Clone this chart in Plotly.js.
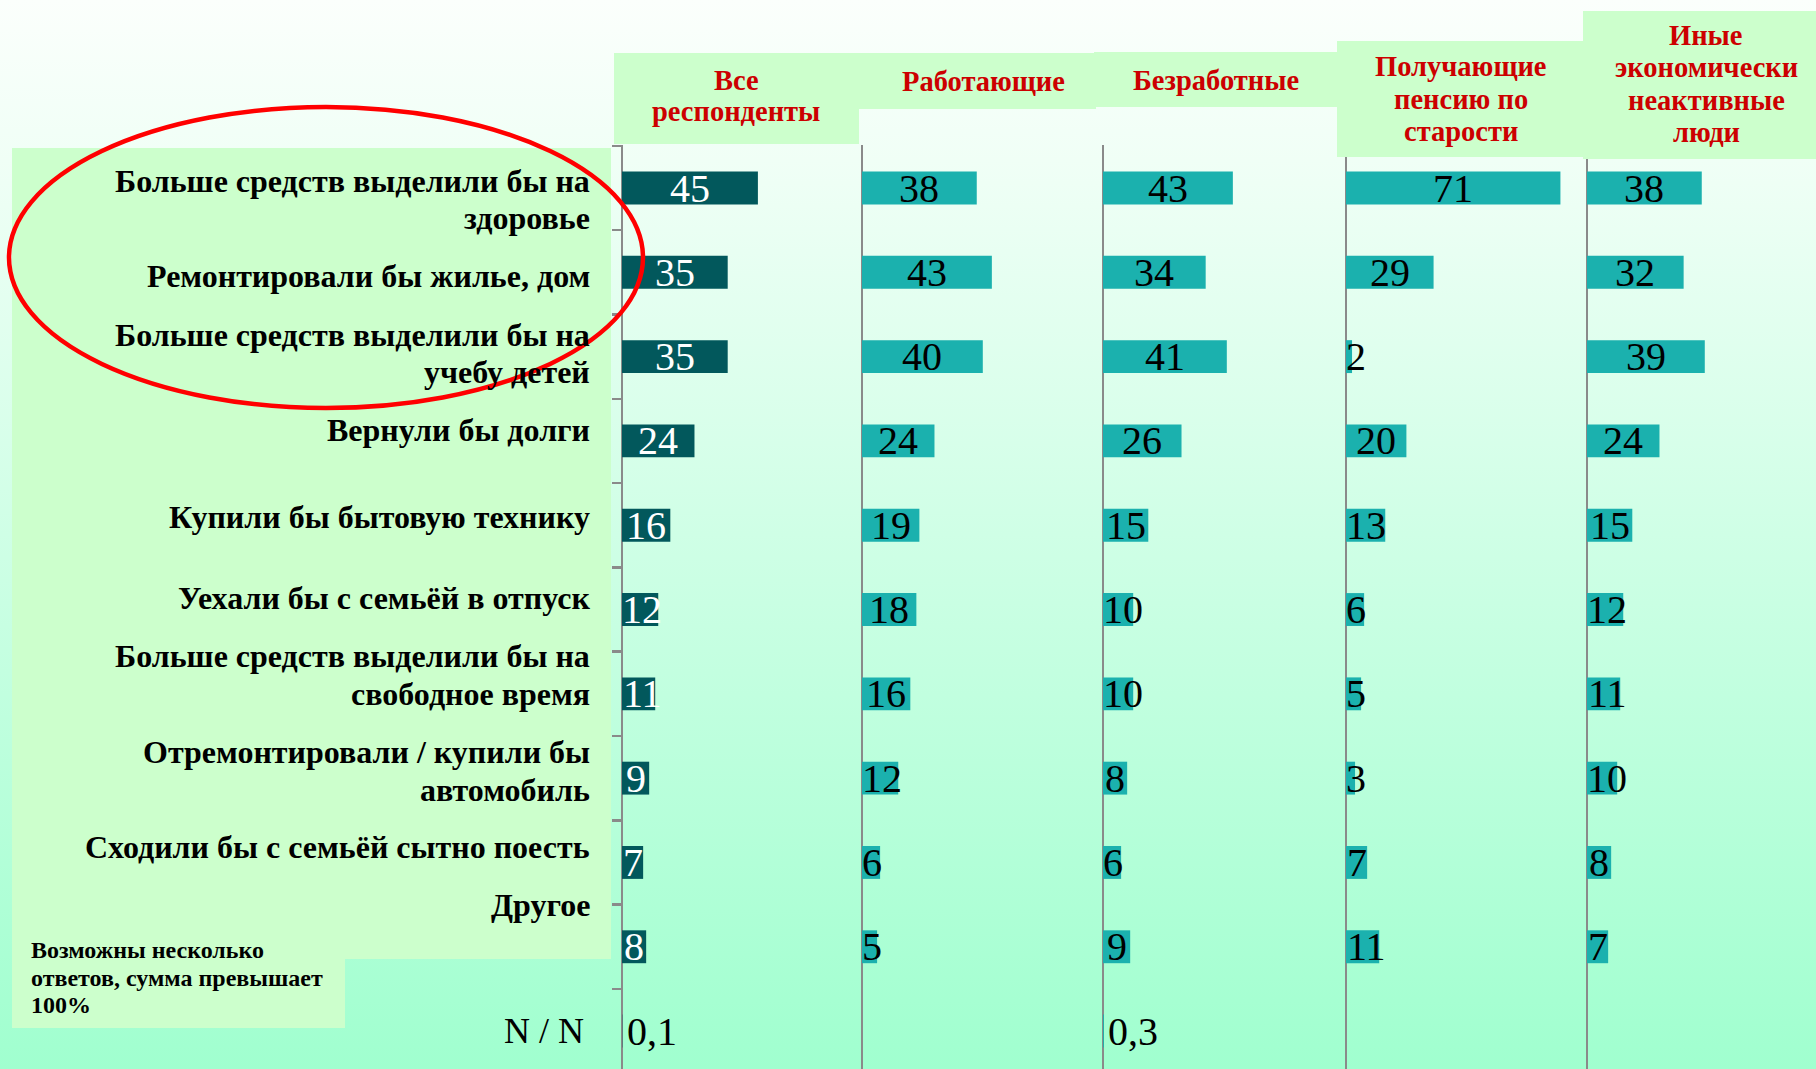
<!DOCTYPE html>
<html>
<head>
<meta charset="utf-8">
<script src="https://cdn.plot.ly/plotly-3.0.1.min.js"></script>
<style>
  html, body { margin: 0; padding: 0; }
  body { width: 1816px; height: 1069px; overflow: hidden;
         background: linear-gradient(to bottom, #fbfffc 0%, #f0fff6 15%, #a0ffcf 100%); }
  #chart { width: 1816px; height: 1069px; }
</style>
</head>
<body>
<div id="chart"></div>
<script>
// ---------------- DATA ----------------
const categories = [
  "Больше средств выделили бы на<br>здоровье",
  "Ремонтировали бы жилье, дом",
  "Больше средств выделили бы на<br>учебу детей",
  "Вернули бы долги",
  "Купили бы бытовую технику",
  "Уехали бы с семьёй в отпуск",
  "Больше средств выделили бы на<br>свободное время",
  "Отремонтировали / купили бы<br>автомобиль",
  "Сходили бы с семьёй сытно поесть",
  "Другое",
  "N / N"
];
const groups = [
  "Все<br>респонденты",
  "Работающие",
  "Безработные",
  "Получающие<br>пенсию по<br>старости",
  "Иные<br>экономически<br>неактивные<br>люди"
];
const allRespondents = [45, 35, 35, 24, 16, 12, 11, 9, 7, 8, 0.1];
const employed       = [38, 43, 40, 24, 19, 18, 16, 12, 6, 5, null];
const unemployed     = [43, 34, 41, 26, 15, 10, 10, 8, 6, 9, 0.3];
const pensioners     = [71, 29, 2, 20, 13, 6, 5, 3, 7, 11, null];
const otherInactive  = [38, 32, 39, 24, 15, 12, 11, 10, 8, 7, null];
const seriesValues = [allRespondents, employed, unemployed, pensioners, otherInactive];
const noteText = "Возможны несколько<br>ответов, сумма превышает<br>100%";

// ---------------- LAYOUT CONSTANTS ----------------
const W = 1816, H = 1069;
const px = x => x / W;
const py = y => 1 - y / H;
const SERIF = "Liberation Serif, Times New Roman, serif";
const PX_PER_UNIT = 3.02;
const panelStarts = [622, 862, 1103, 1346, 1587];
const panelEnds   = [862, 1103, 1346, 1587, 1816];
const barColors = ["#02585c", "#1bb1ae", "#1bb1ae", "#1bb1ae", "#1bb1ae"];
const headerBoxes = [
  [614, 859, 53, 144], [859, 1096, 53, 109], [1094, 1338, 52, 107],
  [1337, 1583, 41, 157], [1583, 1816, 11, 159]
];
const headerCenters = [[736, 96], [983, 82], [1216, 81], [1461, 99], [1706, 84]];
const labelLineY = [[181, 218], [276], [335, 372], [430], [517], [598], [656, 694], [752, 790], [847], [905], [1031]];
const VALUE_FONT = 40;

const data = [];
const layout = {
  width: W, height: H,
  margin: {l: 0, r: 0, t: 0, b: 0, pad: 0},
  paper_bgcolor: "rgba(0,0,0,0)",
  plot_bgcolor: "rgba(0,0,0,0)",
  showlegend: false,
  font: {family: SERIF},
  yaxis: {
    type: "category",
    categoryorder: "array",
    categoryarray: categories,
    range: [10.45, -0.51],
    domain: [0, py(145)],
    anchor: "x",
    showticklabels: false,
    showgrid: false, zeroline: false, showline: false,
    ticks: "outside", tickson: "boundaries", ticklen: 9, tickwidth: 2.5, tickcolor: "#8a8a8a",
    fixedrange: true
  },
  shapes: [],
  annotations: []
};

function fmt(v) { return String(v).replace(".", ","); }
function textWidthUnits(s) {
  let em = 0;
  for (const ch of s) em += (ch === "," ? 0.25 : 0.5);
  return em * VALUE_FONT / PX_PER_UNIT;
}

seriesValues.forEach((vals, i) => {
  const xa = i === 0 ? "x" : "x" + (i + 1);
  const key = i === 0 ? "xaxis" : "xaxis" + (i + 1);
  const wpx = panelEnds[i] - panelStarts[i];
  layout[key] = {
    domain: [px(panelStarts[i]), px(panelEnds[i])],
    range: [0, wpx / PX_PER_UNIT],
    anchor: "y",
    showticklabels: false, showgrid: false, showline: false, ticks: "",
    zeroline: true, zerolinecolor: "#8a8a8a", zerolinewidth: 2.6,
    fixedrange: true
  };
  data.push({
    type: "bar", orientation: "h",
    x: vals, y: categories,
    xaxis: xa, yaxis: "y",
    width: 0.39,
    marker: {color: barColors[i], line: {width: 0}},
    hoverinfo: "skip"
  });
  vals.forEach((v, j) => {
    if (v === null || v === undefined) return;
    const s = fmt(v);
    const small = v < 1;
    layout.annotations.push({
      xref: xa, yref: "y",
      x: Math.max(v / 2, textWidthUnits(s) / 2) + (small ? 1.5 : 0),
      y: categories[j],
      text: s, showarrow: false,
      xanchor: "center", yanchor: "middle", yshift: 0,
      font: {family: SERIF, size: VALUE_FONT,
             color: i === 0 ? (small ? "#000000" : "#ffffff") : "#000000"}
    });
  });
});

// label background boxes
layout.shapes.push({type: "rect", xref: "paper", yref: "paper", layer: "above",
  x0: px(12), x1: px(611), y0: py(148), y1: py(959), fillcolor: "#ccffcc", line: {width: 0}});
layout.shapes.push({type: "rect", xref: "paper", yref: "paper", layer: "above",
  x0: px(12), x1: px(345), y0: py(930), y1: py(1028), fillcolor: "#ccffcc", line: {width: 0}});
// header boxes
headerBoxes.forEach(b => {
  layout.shapes.push({type: "rect", xref: "paper", yref: "paper", layer: "above",
    x0: px(b[0]), x1: px(b[1]), y0: py(b[2]), y1: py(b[3]), fillcolor: "#ccffcc", line: {width: 0}});
});
// red ellipse
layout.shapes.push({type: "circle", xref: "paper", yref: "paper", layer: "above",
  x0: px(9), x1: px(643), y0: py(107), y1: py(408), line: {color: "#ff0000", width: 4.5}});

// header texts
groups.forEach((g, i) => {
  const lines = g.split("<br>");
  const n = lines.length;
  lines.forEach((ln, k) => {
    const yc = headerCenters[i][1] + (k - (n - 1) / 2) * 32;
    layout.annotations.push({
      xref: "paper", yref: "paper", x: px(headerCenters[i][0]), y: py(yc),
      xanchor: "center", yanchor: "middle", showarrow: false, text: ln,
      font: {family: SERIF, size: 28.5, color: "#cc0000", weight: "bold"}
    });
  });
});

// category labels
categories.forEach((c, i) => {
  const lines = c.split("<br>");
  const isNN = i === categories.length - 1;
  lines.forEach((ln, k) => {
    layout.annotations.push({
      xref: "paper", yref: "paper",
      x: px(isNN ? 586 : 592), y: py(labelLineY[i][k]),
      xanchor: "right", yanchor: "middle", showarrow: false, text: ln,
      font: isNN ? {family: SERIF, size: 36, color: "#000000"}
                 : {family: SERIF, size: 32, color: "#000000", weight: "bold"}
    });
  });
});

// note text
noteText.split("<br>").forEach((ln, k) => {
  layout.annotations.push({
    xref: "paper", yref: "paper", x: px(29), y: py(950 + k * 27.5),
    xanchor: "left", yanchor: "middle", showarrow: false, text: ln,
    font: {family: SERIF, size: 24, color: "#000000", weight: "bold"}
  });
});

Plotly.newPlot("chart", data, layout, {displayModeBar: false, staticPlot: true});
</script>
</body>
</html>
